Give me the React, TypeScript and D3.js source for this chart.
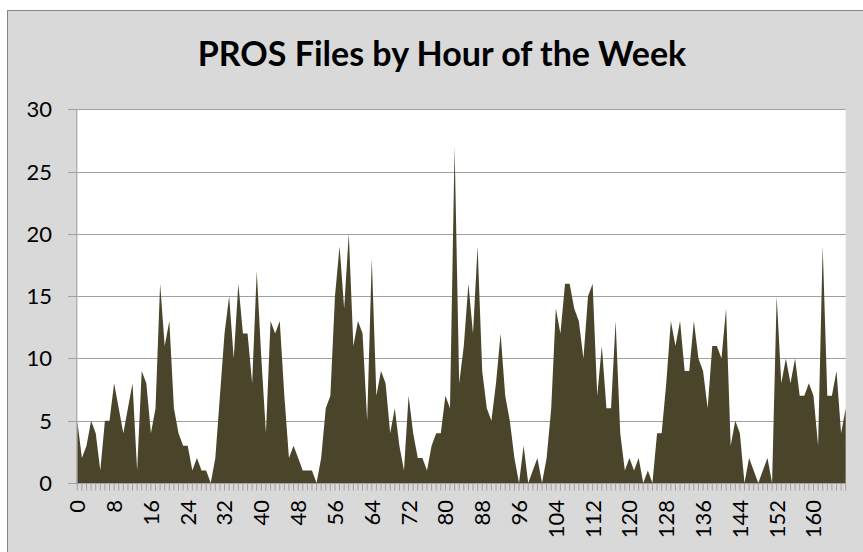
import React from "react";
import * as d3 from "d3";

const TITLE = "PROS Files by Hour of the Week";
const files: number[] = [
  5, 2, 3, 5, 4, 1, 5, 5, 8, 6, 4, 6, 8, 1, 9, 8, 4, 6, 16, 11, 13, 6, 4, 3,
  3, 1, 2, 1, 1, 0, 2, 7, 12, 15, 10, 16, 12, 12, 8, 17, 10, 4, 13, 12, 13, 7, 2, 3,
  2, 1, 1, 1, 0, 2, 6, 7, 15, 19, 14, 20, 11, 13, 12, 5, 18, 7, 9, 8, 4, 6, 3, 1,
  7, 4, 2, 2, 1, 3, 4, 4, 7, 6, 27, 8, 11, 16, 12, 19, 9, 6, 5, 8, 12, 7, 5, 2,
  0, 3, 0, 1, 2, 0, 2, 6, 14, 12, 16, 16, 14, 13, 10, 15, 16, 7, 11, 6, 6, 13, 4, 1,
  2, 1, 2, 0, 1, 0, 4, 4, 8, 13, 11, 13, 9, 9, 13, 10, 9, 6, 11, 11, 10, 14, 3, 5,
  4, 0, 2, 1, 0, 1, 2, 0, 15, 8, 10, 8, 10, 7, 7, 8, 7, 3, 19, 7, 7, 9, 4, 6,
];
const hours: number[] = files.map((_, i) => i);
const xTickLabels: number[] = [0, 8, 16, 24, 32, 40, 48, 56, 64, 72, 80, 88, 96, 104, 112, 120, 128, 136, 144, 152, 160];
const yTickLabels: number[] = [0, 5, 10, 15, 20, 25, 30];

const W = 863;
const H = 552;
const PL = 77.3;
const PR = 845.7;
const PT = 109.3;
const PB = 483;
const FONT = "Lato, 'Open Sans', sans-serif";

export default function App() {
  const x = d3.scaleLinear().domain([0, hours.length - 1]).range([PL, PR]);
  const y = d3.scaleLinear().domain([0, 30]).range([PB, PT]);
  const area = d3
    .area<number>()
    .x((_, i) => x(hours[i]))
    .y0(y(0))
    .y1((d) => y(d))
    .curve(d3.curveLinear);

  return (
    <svg
      width={W}
      height={H}
      style={{ position: "absolute", left: 0, top: 0, background: "#fff" }}
      fontFamily={FONT}
    >
      <rect x={7.5} y={10.5} width={W} height={H} fill="#D9D9D9" stroke="#868686" strokeWidth={1} />
      <text x={442} y={66} textAnchor="middle" fontSize={34} fontWeight="bold" fill="#000">
        {TITLE}
      </text>
      <rect x={PL} y={PT} width={PR - PL} height={PB - PT} fill="#fff" />
      {yTickLabels.map((t) => (
        <g key={"y" + t}>
          {t > 0 && (
            <line x1={PL} x2={PR} y1={Math.round(y(t)) + 0.5} y2={Math.round(y(t)) + 0.5} stroke="#A0A0A0" strokeWidth={1} />
          )}
          <line x1={68} x2={PL} y1={Math.round(y(t)) + 0.5} y2={Math.round(y(t)) + 0.5} stroke="#A0A0A0" strokeWidth={1} />
          <text x={52} y={y(t)} dy="0.36em" textAnchor="end" fontSize={22} fill="#000">
            {t}
          </text>
        </g>
      ))}
      <path d={area(files) || ""} fill="#4A452A" />
      <line x1={PL - 0.5} x2={PL - 0.5} y1={PT} y2={PB} stroke="#A0A0A0" strokeWidth={1} />
      <line x1={PL} x2={PR} y1={PB + 0.5} y2={PB + 0.5} stroke="#A0A0A0" strokeWidth={1} />
      {hours.map((h) => (
        <line key={"t" + h} x1={x(h)} x2={x(h)} y1={PB} y2={PB + 7.5} stroke="#A0A0A0" strokeWidth={1} />
      ))}
      {xTickLabels.map((t) => (
        <text
          key={"x" + t}
          transform={`translate(${x(t)},${500}) rotate(-90)`}
          dy="0.36em"
          textAnchor="end"
          fontSize={22}
          fill="#000"
        >
          {t}
        </text>
      ))}
    </svg>
  );
}
